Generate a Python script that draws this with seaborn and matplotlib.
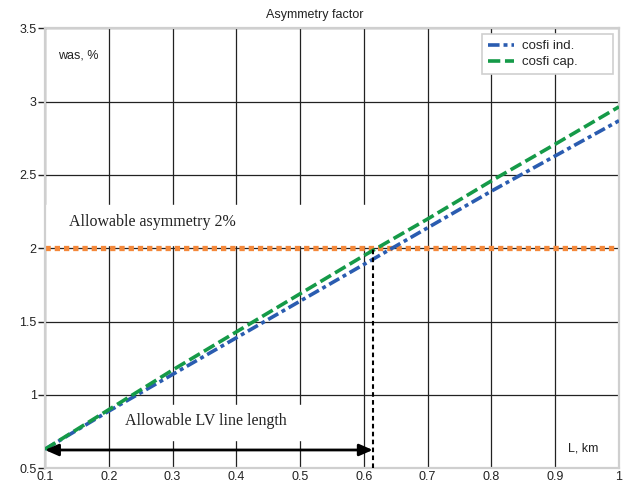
import pandas as pd
import matplotlib.pyplot as plt
import seaborn as sns

# Data
length_km = [0.1, 0.2, 0.3, 0.4, 0.5, 0.6, 0.7, 0.8, 0.9, 1.0]
was_ind = [0.63, 0.89, 1.14, 1.39, 1.64, 1.89, 2.14, 2.39, 2.63, 2.87]
was_cap = [0.63, 0.90, 1.17, 1.43, 1.69, 1.95, 2.20, 2.46, 2.71, 2.965]
series_names = ["cosfi ind.", "cosfi cap."]
allow_asym = 2.0
allow_len = 0.614
arrow_level = 0.625
x_ticks = [0.1, 0.2, 0.3, 0.4, 0.5, 0.6, 0.7, 0.8, 0.9, 1.0]
x_labels = ["0.1", "0.2", "0.3", "0.4", "0.5", "0.6", "0.7", "0.8", "0.9", "1"]
y_ticks = [0.5, 1.0, 1.5, 2.0, 2.5, 3.0, 3.5]
y_labels = ["0.5", "1", "1.5", "2", "2.5", "3", "3.5"]

sns.set_theme(style="white")
plt.rcParams["font.family"] = ["Liberation Sans", "DejaVu Sans"]

df_ind = pd.DataFrame({"L": length_km, "was": was_ind})
df_cap = pd.DataFrame({"L": length_km, "was": was_cap})

fig, ax = plt.subplots(figsize=(6.3, 4.84), dpi=100)
fig.subplots_adjust(left=0.0714, right=0.9825, top=0.9415, bottom=0.0324)

# Grid below everything
ax.set_axisbelow(True)
ax.grid(True, color="#222222", linewidth=0.9)

# White masks behind the annotation texts (grid gaps)
ax.axhspan(2.02, 2.295, xmin=0.0, xmax=0.557, color="white", zorder=1)
ax.axhspan(0.69, 0.93, xmin=0.13, xmax=0.5, color="white", zorder=1)

# Allowable asymmetry level
ax.axhline(allow_asym, color="#f4883a", linewidth=3.8,
           linestyle=(0, (1.0, 0.75)), dash_capstyle="butt", zorder=2)

sns.lineplot(data=df_ind, x="L", y="was", ax=ax, color="#2a5cb0",
             linewidth=2.6, linestyle=(0, (3.2, 1.1, 1.1, 1.1)),
             label=series_names[0], zorder=3)
sns.lineplot(data=df_cap, x="L", y="was", ax=ax, color="#159a48",
             linewidth=2.6, linestyle=(0, (3.4, 1.3)),
             label=series_names[1], zorder=3)

# Allowable length marker
ax.vlines(allow_len, 0.5, allow_asym, color="black", linewidth=1.5,
          linestyles=(0, (2.2, 1.6)), zorder=4)
ax.annotate("", xy=(0.1, arrow_level), xytext=(allow_len, arrow_level),
            arrowprops=dict(arrowstyle="<|-|>,head_length=0.8,head_width=0.35",
                            color="black", lw=2, shrinkA=0, shrinkB=0,
                            mutation_scale=10),
            zorder=4)

ax.set_xlim(0.1, 1.0)
ax.set_ylim(0.5, 3.5)
ax.set_xticks(x_ticks)
ax.set_xticklabels(x_labels)
ax.set_yticks(y_ticks)
ax.set_yticklabels(y_labels)
ax.tick_params(axis="x", length=0, pad=2, labelsize=9, colors="#222222")
ax.tick_params(axis="y", length=5, width=1, pad=1, labelsize=9,
               colors="#222222", left=True)
ax.set_xlabel("")
ax.set_ylabel("")

for side in ["left", "right", "top", "bottom"]:
    ax.spines[side].set_color("#cfcfcf")
    ax.spines[side].set_linewidth(1.6)

# Texts
fig.text(0.5, 1 - 15 / 484, "Asymmetry factor", ha="center", va="center",
         fontsize=9, color="#222222")
ax.text(0.023, 0.939, "was, %", transform=ax.transAxes, ha="left",
        va="center", fontsize=9, color="#222222")
ax.text(0.911, 0.046, "L, km", transform=ax.transAxes, ha="left",
        va="center", fontsize=9, color="#222222")
ax.text(0.042, 0.56, "Allowable asymmetry 2%", transform=ax.transAxes,
        ha="left", va="center", fontsize=11.5, color="#222222",
        family=["Liberation Serif", "DejaVu Serif"])
ax.text(0.139, 0.1075, "Allowable LV line length", transform=ax.transAxes,
        ha="left", va="center", fontsize=11.5, color="#222222",
        family=["Liberation Serif", "DejaVu Serif"])

leg = ax.legend(loc="upper left", bbox_to_anchor=(0.761, 0.987, 0.228, 0.0),
                mode="expand", borderaxespad=0, fontsize=9.5,
                handlelength=2.0, fancybox=False, framealpha=1,
                edgecolor="#cfcfcf", labelspacing=0.3, borderpad=0.45,
                handletextpad=0.6)
leg.get_frame().set_linewidth(1.2)

fig.savefig("out.png", dpi=100)
